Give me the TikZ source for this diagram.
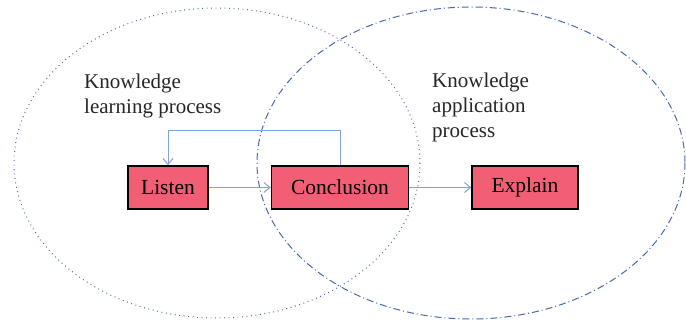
\documentclass[tikz,border=0pt]{standalone}
\usepackage{fontspec}
\setmainfont{Liberation Serif}
\usetikzlibrary{arrows.meta}
\definecolor{boxfill}{HTML}{F25F75}
\definecolor{flowblue}{HTML}{7FA3DC}
\definecolor{ringblue}{HTML}{4A68AC}
\tikzset{
  stagebox/.style={draw=black, line width=1.6pt, fill=boxfill, minimum height=43pt,
    inner sep=0pt, font=\fontsize{21.5}{24}\selectfont},
  flow/.style={draw=flowblue, line width=1pt, -{Straight Barb[length=6pt,width=10pt]}},
  caption/.style={anchor=base west, align=left, inner sep=0pt,
    font=\fontsize{21}{25}\selectfont, text=black!85},
  learnring/.style={draw=ringblue, line width=1pt, dash pattern=on 0.9pt off 3.6pt},
  applyring/.style={draw=ringblue, line width=1pt, dash pattern=on 7pt off 3pt on 1pt off 3pt}
}
\begin{document}
\begin{tikzpicture}[x=1pt,y=-1pt]
  \useasboundingbox (0,0) rectangle (686,325);
  % the two overlapping process regions
  \draw[learnring] (217,163) ellipse [x radius=203, y radius=155];
  \draw[applyring] (471,163) ellipse [x radius=214, y radius=156];
  % region captions (anchored at the baseline of their last line)
  \node[caption] (learn) at (84,113) {Knowledge\\learning process};
  \node[caption] (apply) at (432,137) {Knowledge\\application\\process};
  % stages
  \node[stagebox, minimum width=80pt] (listen) at (168,187.5) {Listen};
  \node[stagebox, minimum width=137pt] (concl) at (340,187.5) {Conclusion};
  \node[stagebox, minimum width=106pt] (explain) at (525,187.5) {Explain};
  % connectors
  \draw[flow] (listen) -- (concl);
  \draw[flow] (concl) -- (explain);
  \draw[flow] (concl.north) -- ++(0,-35) -| (listen.north);
\end{tikzpicture}
\end{document}
